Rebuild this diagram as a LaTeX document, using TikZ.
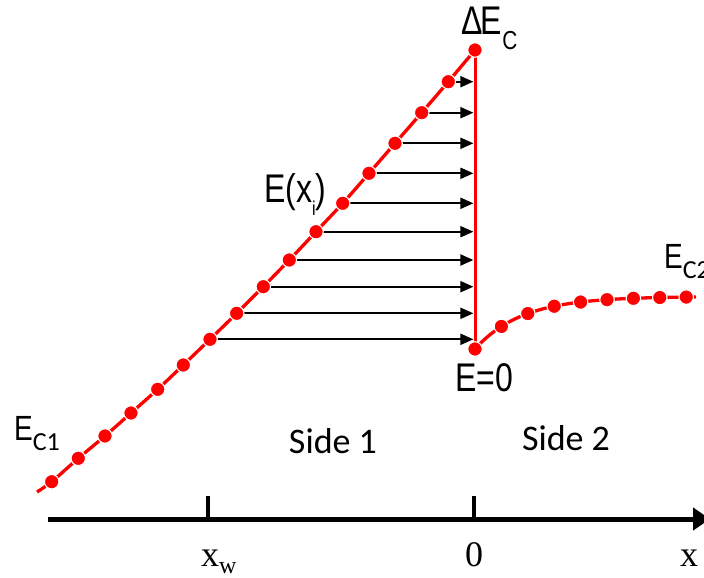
\documentclass[tikz,border=0pt]{standalone}
\usepackage{fontspec}
\setmainfont{Liberation Sans}
\newfontfamily\carl{Carlito}
\newfontfamily\tms{Liberation Serif}
\usetikzlibrary{arrows.meta}
\newcommand\narw[1]{\scalebox{0.8}[1]{#1}}
\begin{document}
\begin{tikzpicture}[x=1pt,y=-1pt,
  redline/.style={red,line width=3.3pt},
  dot/.style={circle,fill=red,draw=white,line width=1.1pt,minimum size=14.5pt,inner sep=0pt},
  harrow/.style={black,line width=2pt,-{Triangle[length=13pt,width=11pt]},shorten >=1.6pt},
  lab/.style={inner sep=0pt,font=\fontsize{40}{40}\selectfont},
  labs/.style={inner sep=0pt,font=\fontsize{35}{35}\selectfont},
  side/.style={inner sep=0pt,font=\carl\fontsize{36}{36}\selectfont},
  axlab/.style={inner sep=0pt,font=\tms\fontsize{36}{36}\selectfont},
  axis/.style={line width=5pt,-{Triangle[length=17pt,width=22pt]}},
  tick/.style={line width=3.5pt}]
\useasboundingbox (0,0) rectangle (704,578);
% left curve
\draw[redline] plot[smooth,tension=0.5] coordinates {(37,492) (51.7,481.7) (78.3,458.3) (105,436) (131,413) (157.7,389.3) (183.3,365) (210,339.3) (236.7,313.3) (263.3,286.7) (289.3,260) (316,231.7) (342.7,203.3) (369,173.3) (395,143.3) (421.7,112.7) (448.3,81.7) (475,50)};
% right curve
\draw[redline] plot[domain=475:696,samples=60] (\x,{296.5+52.5*exp(-(\x-475)/47)});
% vertical line
\coordinate (vt) at (475,50);
\coordinate (vb) at (475,342);
\draw[red,line width=3pt] (vt) -- (vb);
% left dots
\foreach \px/\py [count=\i from 0] in {51.7/481.7,78.3/458.3,105/436,131/413,157.7/389.3,183.3/365,210/339.3,236.7/313.3,263.3/286.7,289.3/260,316/231.7,342.7/203.3,369/173.3,395/143.3,421.7/112.7,448.3/81.7,475/50}
  \coordinate (p\i) at (\px,\py);
% arrows
\foreach \i in {6,...,15}
  \draw[harrow] (p\i) -- (p\i -| vt);
\foreach \i in {0,...,16}
  \node[dot] (l\i) at (p\i) {};
% right dots
\foreach \k in {0,...,8}{
  \pgfmathsetmacro\xx{475+26.4*\k}
  \pgfmathsetmacro\yy{296.5+52.5*exp(-(\xx-475)/47)}
  \node[dot] (r\k) at (\xx,\yy) {};
}
% labels
\node[lab,anchor=base west] (dec) at (461,35) {\narw{Δ\kern-2ptE\raisebox{-15pt}{\fontsize{26}{26}\selectfont C}}};
\node[lab,anchor=base west] (exi) at (264,202) {\narw{E(x\raisebox{-13pt}{\fontsize{20}{20}\selectfont i})}};
\node[lab,anchor=base west] (e0) at (455,391) {\narw{E=0}};
\node[labs,anchor=base west] (ec1) at (14,440) {\narw{E}\raisebox{-10pt}{\carl\fontsize{26}{26}\selectfont C1}};
\node[labs,anchor=base west] (ec2) at (664,268) {\narw{E}\raisebox{-10pt}{\carl\fontsize{26}{26}\selectfont C2}};
\node[side,anchor=base] (s1) at (333,453) {Side 1};
\node[side,anchor=base] (s2) at (566,450) {Side 2};
% axis
\coordinate (a0) at (48,519);
\coordinate (a1) at (710,519);
\draw[axis] (a0) -- (a1);
\coordinate (tw) at (208,496);
\coordinate (t0) at (474,496);
\draw[tick] (tw) -- (tw |- a0);
\draw[tick] (t0) -- (t0 |- a0);
\node[axlab,anchor=base west] (xw) at (201,566) {x\raisebox{-7pt}{\fontsize{24}{24}\selectfont w}};
\node[axlab,anchor=base] (zero) at (474,566) {0};
\node[axlab,anchor=base west] (xx) at (680,566) {x};
\end{tikzpicture}
\end{document}
